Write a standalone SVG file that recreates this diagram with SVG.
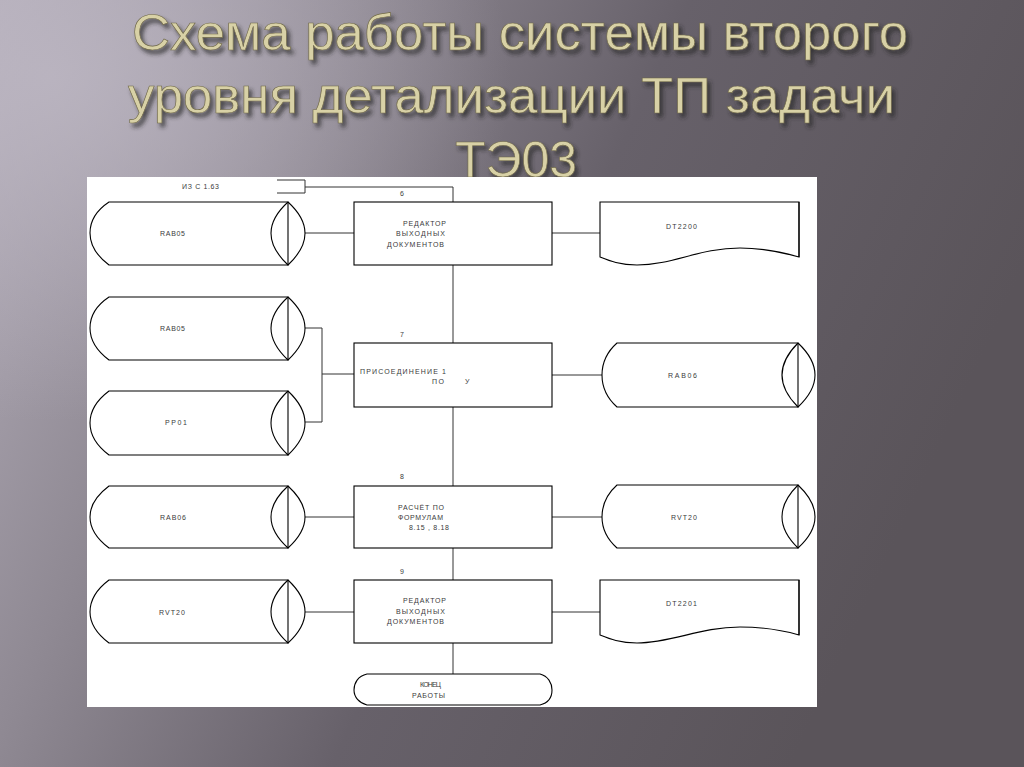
<svg xmlns="http://www.w3.org/2000/svg" width="1024" height="767" viewBox="0 0 1024 767">
<defs>
<linearGradient id="bg" x1="0" y1="0" x2="1" y2="0.35">
<stop offset="0" stop-color="#b3adb9"/>
<stop offset="0.3" stop-color="#8f8993"/>
<stop offset="0.6" stop-color="#67616a"/>
<stop offset="1" stop-color="#5a545a"/>
</linearGradient>
<radialGradient id="glow" cx="0.05" cy="0.1" r="0.45">
<stop offset="0" stop-color="#bdb7c3" stop-opacity="0.8"/>
<stop offset="1" stop-color="#bdb7c3" stop-opacity="0"/>
</radialGradient>
<filter id="shadow" x="-5%" y="-30%" width="110%" height="170%">
<feDropShadow dx="3" dy="4" stdDeviation="2" flood-color="#2a262a" flood-opacity="0.75"/>
</filter>
<style>
.title{font-family:"Liberation Sans",Arial,sans-serif;font-size:50px;fill:#d8d1a6;stroke:#6d6648;stroke-width:0.6;}
.t{font-family:"Liberation Sans",Arial,sans-serif;font-size:7px;fill:#3a3a3a;}
.s{fill:#ffffff;stroke:#000;stroke-width:1.1;}
.l{fill:none;stroke:#000;stroke-width:1.1;}
.c{fill:none;stroke:#333;stroke-width:1;}
</style>
</defs>
<rect x="0" y="0" width="1024" height="767" fill="url(#bg)"/>
<rect x="0" y="0" width="1024" height="767" fill="url(#glow)"/>

<g id="title" filter="url(#shadow)">
<text class="title" x="132" y="50" textLength="776" lengthAdjust="spacingAndGlyphs">Схема работы системы второго</text>
<text class="title" x="128" y="113" textLength="767" lengthAdjust="spacingAndGlyphs">уровня детализации ТП задачи</text>
<text class="title" x="455" y="177" textLength="122" lengthAdjust="spacingAndGlyphs">ТЭ03</text>
</g>

<rect x="87" y="177" width="730" height="530" fill="#ffffff"/>

<g id="connectors">
<path class="c" d="M277,180 H305 V193 H277"/>
<path class="c" d="M305,187 H453 V674"/>
<path class="c" d="M305,233 H354"/>
<path class="c" d="M552,233 H600"/>
<path class="c" d="M305,328 H322 V422 H305 M322,374 H354"/>
<path class="c" d="M552,375 H602"/>
<path class="c" d="M305,517 H354"/>
<path class="c" d="M552,517 H602"/>
<path class="c" d="M305,612 H354"/>
<path class="c" d="M552,612 H600"/>
</g>

<g id="src-label">
<text class="t" x="182" y="188.5" textLength="37">ИЗ С 1.63</text>
</g>
<g id="step-labels">
<text class="t" x="400" y="196" font-size="5">6</text>
<text class="t" x="400" y="337" font-size="5">7</text>
<text class="t" x="400" y="479" font-size="5">8</text>
<text class="t" x="400" y="574" font-size="5">9</text>
</g>

<g id="cyl-rab05-a">
<path class="s" d="M109,202 H288 V265 H109 C97,256 90,245 90,233 C90,221 97,210 109,202 Z"/>
<path class="l" d="M288,202 Q254,233 288,265 Q322,233 288,202"/>
<text class="t" x="160" y="235.5" textLength="25">RAB05</text>
</g>
<g id="box-6">
<rect class="s" x="354" y="202" width="198" height="63"/>
<text class="t" x="403" y="225.5" textLength="43">РЕДАКТОР</text>
<text class="t" x="396" y="236" textLength="49">ВЫХОДНЫХ</text>
<text class="t" x="387" y="246.5" textLength="57">ДОКУМЕНТОВ</text>
</g>
<g id="doc-dt2200">
<path class="s" d="M600,202 H799 V257 C778,251 760,248 740,248 C700,248 672,265 637,265 C620,265 610,261 600,257 Z"/>
<path class="l" d="M799,202 V257" stroke-width="1.8"/>
<text class="t" x="666" y="228.5" textLength="31">DT2200</text>
</g>

<g id="cyl-rab05-b">
<path class="s" d="M109,297 H288 V360 H109 C97,351 90,340 90,328 C90,316 97,305 109,297 Z"/>
<path class="l" d="M288,297 Q254,328 288,360 Q322,328 288,297"/>
<text class="t" x="160" y="330.5" textLength="25">RAB05</text>
</g>
<g id="cyl-pp01">
<path class="s" d="M109,391 H288 V455 H109 C97,446 90,435 90,423 C90,411 97,400 109,391 Z"/>
<path class="l" d="M288,391 Q254,423 288,455 Q322,423 288,391"/>
<text class="t" x="165" y="424.5" textLength="22">PP01</text>
</g>
<g id="box-7">
<rect class="s" x="354" y="343" width="198" height="64"/>
<text class="t" x="360" y="373.5" textLength="86">ПРИСОЕДИНЕНИЕ 1</text>
<text class="t" x="432" y="383.5" textLength="12">ПО</text>
<text class="t" x="465" y="383.5">У</text>
</g>
<g id="cyl-rab06-r">
<path class="s" d="M617,343 H798 V407 H617 C608,399 602,388 602,375 C602,362 608,351 617,343 Z"/>
<path class="l" d="M798,343 Q766,375 798,407 Q832,375 798,343"/>
<text class="t" x="668" y="377.5" textLength="29">RAB06</text>
</g>

<g id="cyl-rab06-l">
<path class="s" d="M109,486 H288 V548 H109 C97,539 90,529 90,517 C90,505 97,495 109,486 Z"/>
<path class="l" d="M288,486 Q254,517 288,548 Q322,517 288,486"/>
<text class="t" x="160" y="519.5" textLength="26">RAB06</text>
</g>
<g id="box-8">
<rect class="s" x="354" y="486" width="198" height="62"/>
<text class="t" x="398" y="509.5" textLength="46">РАСЧЁТ ПО</text>
<text class="t" x="398" y="519.5" textLength="45">ФОРМУЛАМ</text>
<text class="t" x="409" y="529.5" textLength="40">8.15 , 8.18</text>
</g>
<g id="cyl-rvt20-r">
<path class="s" d="M617,485 H798 V548 H617 C608,540 602,529 602,517 C602,504 608,493 617,485 Z"/>
<path class="l" d="M798,485 Q766,517 798,548 Q832,517 798,485"/>
<text class="t" x="671" y="519.5" textLength="26">RVT20</text>
</g>

<g id="cyl-rvt20-l">
<path class="s" d="M109,580 H288 V643 H109 C97,634 90,624 90,612 C90,600 97,589 109,580 Z"/>
<path class="l" d="M288,580 Q254,612 288,643 Q322,612 288,580"/>
<text class="t" x="159" y="614.5" textLength="26">RVT20</text>
</g>
<g id="box-9">
<rect class="s" x="354" y="580" width="198" height="63"/>
<text class="t" x="403" y="602.5" textLength="43">РЕДАКТОР</text>
<text class="t" x="396" y="613.5" textLength="49">ВЫХОДНЫХ</text>
<text class="t" x="387" y="624" textLength="57">ДОКУМЕНТОВ</text>
</g>
<g id="doc-dt2201">
<path class="s" d="M600,580 H799 V635 C778,629 760,627 740,627 C700,627 672,643 637,643 C620,643 610,639 600,635 Z"/>
<path class="l" d="M799,580 V635" stroke-width="1.8"/>
<text class="t" x="666" y="605.5" textLength="31">DT2201</text>
</g>

<g id="terminal">
<path class="s" d="M367,674 H540 C548,676 552,683 552,690 C552,698 548,703 540,705 H367 C359,703 354,697 354,690 C354,683 358,676 367,674 Z"/>
<text class="t" x="420" y="686.5" textLength="21">КОНЕЦ</text>
<text class="t" x="412" y="697.5" textLength="33">РАБОТЫ</text>
</g>
</svg>
